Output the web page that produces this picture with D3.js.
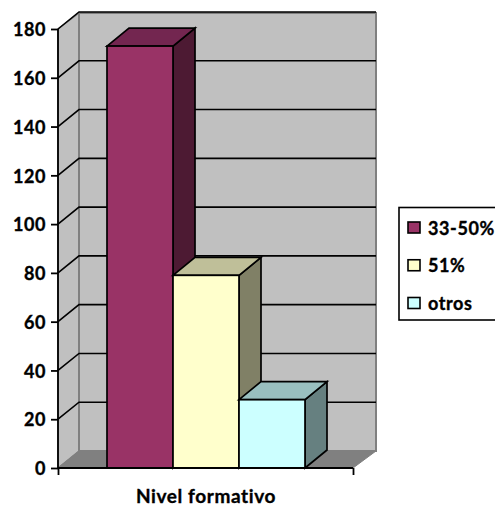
<!DOCTYPE html>
<html><head><meta charset="utf-8">
<script src="https://cdn.jsdelivr.net/npm/d3@7"></script>
<style>html,body{margin:0;padding:0;background:#fff}svg{display:block}text{font-family:Lato,"Open Sans",sans-serif;font-weight:700;fill:#000;stroke:#000;stroke-width:0.35px}</style>
</head><body><svg id="c" width="495" height="506"></svg>
<script>
const series = ["33-50%","51%","otros"];
const values = [173,79,28];
const frontColors = ["#993366","#FFFFCC","#CCFFFF"];
const topColors = ["#732650","#BFBF99","#99BFBF"];
const sideColors = ["#4D1A33","#808066","#668080"];
const yTicks = [0,20,40,60,80,100,120,140,160,180];
const xTitle = "Nivel formativo";

const svg = d3.select("#c");
const y = d3.scaleLinear().domain([0,180]).range([468,29]);
const x = d3.scaleBand().domain(series).range([107,305]);
const L = 58, R = 353, DX = 21, DY = 17, BDX = 22, BDY = 18;
const poly = pts => pts.map(p => p.join(",")).join(" ");

// walls
svg.append("polygon").attr("points",poly([[L,y(0)],[L+DX,y(0)-DY],[L+DX,y(180)-DY+1],[L,y(180)]]))
  .attr("fill","#C0C0C0").attr("stroke","#808080").attr("stroke-width",1.5);
svg.append("rect").attr("x",L+DX).attr("y",y(180)-DY+1).attr("width",R-L+2).attr("height",y(0)-y(180)-1)
  .attr("fill","#C0C0C0").attr("stroke","#808080").attr("stroke-width",2);
svg.append("polygon").attr("points",poly([[L,y(0)],[L+DX,y(0)-DY],[R+DX+2,y(0)-DY],[R,y(0)]]))
  .attr("fill","#808080").attr("stroke","#808080");

// gridlines
const grid = yTicks.filter(d => d>0);
svg.selectAll(".g").data(grid).join("polyline").attr("class","g")
  .attr("points",d => poly([[L,y(d)],[L+DX,y(d)-DY],[R+DX+2,y(d)-DY]]))
  .attr("fill","none").attr("stroke","#000").attr("stroke-width",1.6);

// bars, drawn back-to-front so each one covers the previous
const bars = svg.selectAll(".b").data(series).join("g").attr("class","b");
const bw = x.bandwidth();
bars.append("polygon").attr("points",(d,i) => { const a=x(d)+bw, t=y(values[i]);
    return poly([[a,y(0)],[a+BDX,y(0)-BDY],[a+BDX,t-BDY],[a,t]]); })
  .attr("fill",(d,i)=>sideColors[i]);
bars.append("polygon").attr("points",(d,i) => { const a=x(d), t=y(values[i]);
    return poly([[a,t],[a+BDX,t-BDY],[a+bw+BDX,t-BDY],[a+bw,t]]); })
  .attr("fill",(d,i)=>topColors[i]);
bars.append("rect").attr("x",d=>x(d)).attr("y",(d,i)=>y(values[i])).attr("width",bw)
  .attr("height",(d,i)=>y(0)-y(values[i])).attr("fill",(d,i)=>frontColors[i]);
bars.selectAll("polygon,rect").attr("stroke","#000").attr("stroke-width",1.7).attr("stroke-linejoin","miter");

// axes
const ax = d3.axisLeft(y).tickValues(yTicks).tickSize(7).tickPadding(5);
const gy = svg.append("g").attr("transform",`translate(${L},0)`).call(ax);
gy.selectAll("path,line").attr("stroke","#000").attr("stroke-width",1.8);
gy.select(".domain").attr("d",`M${0},${y(180)}V${y(0)}`);
gy.selectAll("text").style("font-size","18px").style("letter-spacing","0.6px").attr("fill","#000").attr("y",1);

const gx = svg.append("g").attr("transform",`translate(0,${y(0)})`)
  .call(d3.axisBottom(d3.scaleLinear().domain([0,1]).range([L,R])).tickValues([0,1]).tickSize(7).tickFormat(""));
gx.selectAll("path,line").attr("stroke","#000").attr("stroke-width",1.8);
gx.select(".domain").attr("d",`M${L},0H${R}`);

svg.append("text").attr("x",206).attr("y",503).attr("text-anchor","middle")
  .style("font-size","19px").style("letter-spacing","0.6px").text(xTitle);

// legend
svg.append("rect").attr("x",399).attr("y",207.5).attr("width",98).attr("height",112.5)
  .attr("fill","#fff").attr("stroke","#000").attr("stroke-width",1.6);
const ly = d3.scalePoint().domain(series).range([227.5,303]);
const lg = svg.selectAll(".l").data(series).join("g").attr("class","l").attr("transform",d=>`translate(0,${ly(d)})`);
lg.append("rect").attr("x",408).attr("y",-5.5).attr("width",12).attr("height",11)
  .attr("fill",(d,i)=>frontColors[i]).attr("stroke","#000").attr("stroke-width",1.6);
lg.append("text").attr("x",428).attr("y",7).style("font-size","18px").style("letter-spacing","0.6px").text(d=>d);
</script></body></html>
